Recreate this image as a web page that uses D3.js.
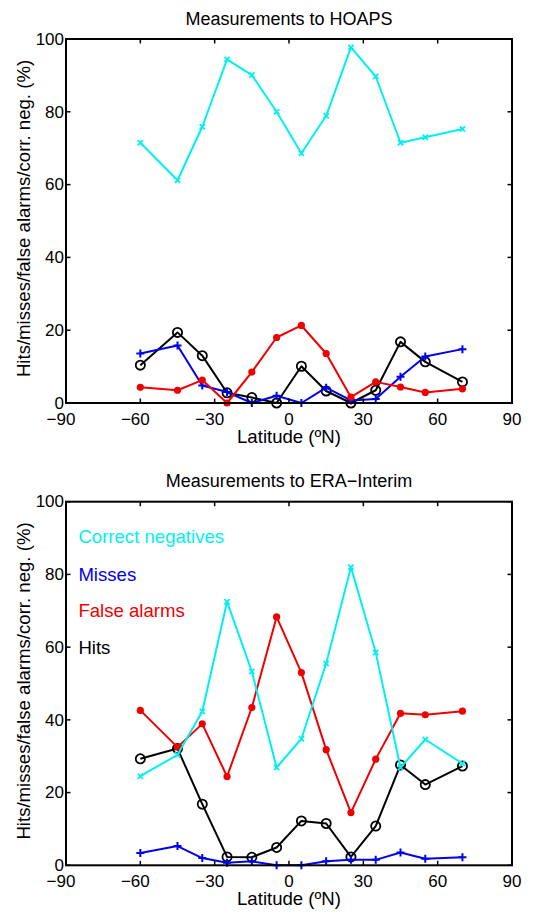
<!DOCTYPE html>
<html>
<head>
<meta charset="utf-8">
<script src="https://cdn.jsdelivr.net/npm/d3@7"></script>
<style>
  html, body { margin: 0; padding: 0; background: #fff; }
  svg { display: block; font-family: "Liberation Sans", Arial, Helvetica, sans-serif; }
</style>
</head>
<body>
<svg id="chart" width="541" height="915"></svg>
<script>
// Latitude band centres (ºN)
const latitudes = [-60, -45, -35, -25, -15, -5, 5, 15, 25, 35, 45, 55, 70];

// Contingency scores (%) against HOAPS
const hoapsHits          = [10.4, 19.4, 13.0, 2.8, 1.5, 0.0, 10.1, 3.3, 0.0, 3.5, 16.8, 11.3, 5.8];
const hoapsMisses        = [13.6, 15.8, 4.8, 3.0, 0.0, 2.0, 0.0, 4.2, 0.7, 1.1, 7.2, 12.8, 14.8];
const hoapsFalseAlarms   = [4.3, 3.5, 6.3, 0.0, 8.5, 18.0, 21.3, 13.6, 1.6, 5.8, 4.4, 2.9, 3.9];
const hoapsCorrectNeg    = [71.5, 61.2, 75.9, 94.4, 90.1, 80.0, 68.6, 78.9, 97.7, 89.7, 71.5, 73.0, 75.3];

// Contingency scores (%) against ERA-Interim
const eraHits            = [29.3, 32.1, 16.8, 2.3, 2.2, 4.9, 12.2, 11.5, 2.3, 10.8, 27.6, 22.2, 27.3];
const eraMisses          = [3.4, 5.3, 2.0, 0.7, 1.1, 0.0, 0.0, 1.1, 1.5, 1.5, 3.5, 1.8, 2.2];
const eraFalseAlarms     = [42.6, 32.5, 38.9, 24.4, 43.4, 68.3, 53.0, 31.8, 14.5, 29.2, 41.8, 41.4, 42.4];
const eraCorrectNeg      = [24.5, 30.4, 42.3, 72.5, 53.3, 26.9, 34.8, 55.5, 82.0, 58.5, 26.9, 34.6, 28.0];

// Axis ticks
const xTicks = [-90, -60, -30, 0, 30, 60, 90];
const yTicks = [0, 20, 40, 60, 80, 100];

// Legend entries (drawn in the lower panel)
const legendLabels = ["Correct negatives", "Misses", "False alarms", "Hits"];
const legendLevels = [88.6, 78.3, 68.2, 58.2];

const panelTitles = ["Measurements to HOAPS", "Measurements to ERA\u2212Interim"];
const xLabel = "Latitude (\u00baN)";
const yLabel = "Hits/misses/false alarms/corr. neg. (%)";

const colors = { hits: "#000000", misses: "#0000f0", falseAlarms: "#f00000", correctNeg: "#00f0f0" };

const panels = [
  { title: panelTitles[0], top: 39, bottom: 403,
    series: { hits: hoapsHits, misses: hoapsMisses, falseAlarms: hoapsFalseAlarms, correctNeg: hoapsCorrectNeg },
    legend: false },
  { title: panelTitles[1], top: 501.7, bottom: 865.3,
    series: { hits: eraHits, misses: eraMisses, falseAlarms: eraFalseAlarms, correctNeg: eraCorrectNeg },
    legend: true }
];

const svg = d3.select("#chart");
const left = 66, right = 512;
const tickLen = 4.5;
const tickFont = 17, labelFont = 18.6;

const fmt = v => (v < 0 ? "\u2212" + Math.abs(v) : String(v));

panels.forEach(p => {
  const x = d3.scaleLinear().domain([-90, 90]).range([left, right]);
  const y = d3.scaleLinear().domain([0, 100]).range([p.bottom, p.top]);
  const g = svg.append("g");

  // Series lines and markers (hits first, correct negatives last)
  const order = ["hits", "misses", "falseAlarms", "correctNeg"];
  const line = d3.line().x((d, i) => x(latitudes[i])).y(d => y(d));

  order.forEach(key => {
    const vals = p.series[key];
    const col = colors[key];
    g.append("path")
      .datum(vals)
      .attr("d", line)
      .attr("fill", "none")
      .attr("stroke", col)
      .attr("stroke-width", 2)
      .attr("stroke-linejoin", "round");

    const pts = g.append("g").selectAll("g").data(vals).join("g")
      .attr("transform", (d, i) => `translate(${x(latitudes[i])},${y(d)})`);

    if (key === "hits") {
      pts.append("circle").attr("r", 4.6).attr("fill", "none")
        .attr("stroke", col).attr("stroke-width", 1.8);
    } else if (key === "falseAlarms") {
      pts.append("circle").attr("r", 3.6).attr("fill", col);
    } else if (key === "misses") {
      pts.append("path").attr("d", "M-4,0H4M0,-4V4")
        .attr("stroke", col).attr("stroke-width", 2);
    } else {
      pts.append("path").attr("d", "M-2.6,-2.6L2.6,2.6M-2.6,2.6L2.6,-2.6")
        .attr("stroke", col).attr("stroke-width", 1.8);
    }
  });

  // Box
  g.append("rect")
    .attr("x", left).attr("y", p.top)
    .attr("width", right - left).attr("height", p.bottom - p.top)
    .attr("fill", "none").attr("stroke", "#000").attr("stroke-width", 2);

  // Ticks pointing inward on all four sides
  xTicks.forEach(t => {
    g.append("line").attr("x1", x(t)).attr("x2", x(t))
      .attr("y1", p.bottom).attr("y2", p.bottom - tickLen)
      .attr("stroke", "#000").attr("stroke-width", 1.5);
    g.append("line").attr("x1", x(t)).attr("x2", x(t))
      .attr("y1", p.top).attr("y2", p.top + tickLen)
      .attr("stroke", "#000").attr("stroke-width", 1.5);
  });
  yTicks.forEach(t => {
    g.append("line").attr("x1", left).attr("x2", left + tickLen)
      .attr("y1", y(t)).attr("y2", y(t))
      .attr("stroke", "#000").attr("stroke-width", 1.5);
    g.append("line").attr("x1", right).attr("x2", right - tickLen)
      .attr("y1", y(t)).attr("y2", y(t))
      .attr("stroke", "#000").attr("stroke-width", 1.5);
  });

  // X tick labels: digits centred on the tick, minus sign hanging to the left
  xTicks.forEach(t => {
    const digits = String(Math.abs(t));
    const txt = g.append("text")
      .attr("y", p.bottom + 21.5)
      .attr("font-size", tickFont)
      .attr("fill", "#000")
      .text(fmt(t));
    const probe = g.append("text").attr("font-size", tickFont).text(digits);
    const w = probe.node().getComputedTextLength();
    probe.remove();
    txt.attr("text-anchor", "end").attr("x", x(t) + w / 2);
  });

  // Y tick labels
  yTicks.forEach(t => {
    g.append("text")
      .attr("x", left - 2)
      .attr("y", y(t))
      .attr("dy", "0.34em")
      .attr("text-anchor", "end")
      .attr("font-size", tickFont)
      .attr("fill", "#000")
      .text(fmt(t));
  });

  // Title
  g.append("text")
    .attr("x", (left + right) / 2)
    .attr("y", p.top - 14.5)
    .attr("text-anchor", "middle")
    .attr("font-size", 18)
    .attr("fill", "#000")
    .text(p.title);

  // X axis label
  g.append("text")
    .attr("x", (left + right) / 2)
    .attr("y", p.bottom + 39.5)
    .attr("text-anchor", "middle")
    .attr("font-size", labelFont)
    .attr("fill", "#000")
    .text(xLabel);

  // Y axis label
  g.append("text")
    .attr("transform", `translate(30,${(p.top + p.bottom) / 2 - 2.5}) rotate(-90)`)
    .attr("text-anchor", "middle")
    .attr("font-size", labelFont)
    .attr("fill", "#000")
    .text(yLabel);

  if (p.legend) {
    const legendKeys = ["correctNeg", "misses", "falseAlarms", "hits"];
    legendLabels.forEach((lab, i) => {
      g.append("text")
        .attr("x", x(-85))
        .attr("y", y(legendLevels[i]))
        .attr("font-size", labelFont)
        .attr("fill", colors[legendKeys[i]])
        .text(lab);
    });
  }
});
</script>
</body>
</html>
